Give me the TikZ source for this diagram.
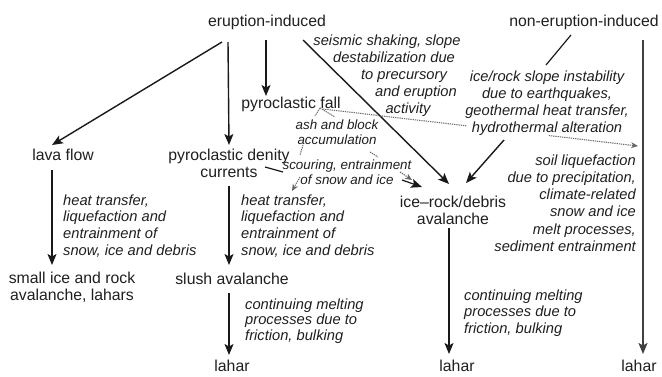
\documentclass[tikz,border=0pt]{standalone}
\usepackage{fontspec}
\setmainfont{Liberation Sans}
\usetikzlibrary{arrows.meta,calc}
\begin{document}
\begin{tikzpicture}[x=1pt,y=-1pt,
  lbl/.style={inner sep=0pt, text=black!88, font=\fontsize{15.8}{17.2}\selectfont, align=center},
  itl/.style={inner sep=0pt, text=black!88, font=\fontsize{14.7}{16.8}\selectfont\itshape},
  itls/.style={inner sep=0pt, text=black!88, font=\fontsize{13.4}{15}\selectfont\itshape, align=center},
  arr/.style={line width=1.4pt, draw=black!90, -{Stealth[length=11pt,width=9pt,inset=2.5pt]}},
  plainln/.style={line width=1.2pt, draw=black!90},
  dotl/.style={line width=1pt, draw=black!60, dash pattern=on 1.3pt off 0.9pt},
  dotarr/.style={dotl, -{Stealth[length=7pt,width=6pt]}},
]
\useasboundingbox (0,0) rectangle (662,376);

% nodes
\node[lbl] (erup) at (267,22) {eruption-induced};
\node[lbl] (nonerup) at (584,22) {non-eruption-induced};
\node[lbl] (pfall) at (291,104) {pyroclastic fall};
\node[lbl] (lava) at (63,155) {lava flow};
\node[lbl] (pdc) at (229,163) {pyroclastic denity\\currents};
\node[itls] (ash) at (337,132) {ash and block\\accumulation};
\node[itls] (scour) at (347,172) {scouring, entrainment\\of snow and ice};
\node[itl, align=center, font=\fontsize{14.7}{17}\selectfont\itshape] (seis) at (387,76)
  {seismic shaking, slope\\\hspace*{14pt}destabilization due\\\hspace*{34pt}to precursory\\\hspace*{58pt}and eruption\\\hspace*{42pt}activity};
\node[itl, align=center] (slope) at (547,103)
  {ice/rock slope instability\\due to earthquakes,\\geothermal heat transfer,\\hydrothermal alteration};
\node[lbl] (iceav) at (453,210) {ice--rock/debris\\avalanche};
\node[itl, align=right, anchor=east, font=\fontsize{14.7}{17.2}\selectfont\itshape] (soil) at (636,203)
  {soil liquefaction\\due to precipitation,\\climate-related\\snow and ice\\melt processes,\\sediment entrainment};
\node[lbl] (small) at (72,287) {small ice and rock\\avalanche, lahars};
\node[itl, align=left, anchor=west] (ht1) at (63,226) {heat transfer,\\liquefaction and\\entrainment of\\snow, ice and debris};
\node[itl, align=left, anchor=west] (ht2) at (241,226) {heat transfer,\\liquefaction and\\entrainment of\\snow, ice and debris};
\node[lbl] (slush) at (232,279) {slush avalanche};
\node[itl, align=left, anchor=west, font=\fontsize{14.7}{15.8}\selectfont\itshape] (cont1) at (245,321) {continuing melting\\processes due to\\friction, bulking};
\node[itl, align=left, anchor=west, font=\fontsize{14.7}{16.5}\selectfont\itshape] (cont2) at (464,313) {continuing melting\\processes due to\\friction, bulking};
\node[lbl] (lahar1) at (232,366) {lahar};
\node[lbl] (lahar2) at (457,366) {lahar};
\node[lbl] (lahar3) at (639,366) {lahar};

% solid connectors
\draw[arr] ([xshift=-45pt,yshift=-20pt]erup.center) -- ([xshift=-11pt,yshift=10pt]lava.center);
\draw[arr] ([xshift=-39pt,yshift=-20pt]erup.center) -- ([xshift=0pt,yshift=18pt]pdc.center);
\draw[arr] ([xshift=-1pt,yshift=-18pt]erup.center) -- ([xshift=-25pt,yshift=8pt]pfall.center);
\draw[arr] ([xshift=36pt,yshift=-18pt]erup.center) -- ([xshift=-4pt,yshift=26pt]iceav.center);
\draw[plainln] ([xshift=-13pt,yshift=-13pt]nonerup.center) -- ([xshift=-1pt,yshift=38pt]slope.center);
\draw[arr] ([xshift=-43pt,yshift=-37pt]slope.center) -- ([xshift=13pt,yshift=27pt]iceav.center);
\draw[arr, draw=black!75, line width=1.7pt] ([xshift=59pt,yshift=-18pt]nonerup.center) -- ([xshift=4pt,yshift=12pt]lahar3.center);
\draw[arr] ([xshift=-11pt,yshift=-15pt]lava.center) -- ([xshift=-20pt,yshift=22pt]small.center);
\draw[arr] ([xshift=0pt,yshift=-23pt]pdc.center) -- ([xshift=-3pt,yshift=14pt]slush.center);
\draw[arr] ([xshift=-3pt,yshift=-14pt]slush.center) -- ([xshift=-3pt,yshift=11pt]lahar1.center);
\draw[arr, line width=1.2pt] ([xshift=-4pt,yshift=-18pt]iceav.center) -- ([xshift=-8pt,yshift=12pt]lahar2.center);
\draw[arr, line width=1.2pt] ([xshift=36pt,yshift=-4pt]pdc.center) -- ([xshift=54pt,yshift=-9pt]pdc.center)
  ([xshift=55pt,yshift=-8pt]scour.center) -- ([xshift=-31pt,yshift=23pt]iceav.center);

% dotted connectors
\coordinate (fa) at ([xshift=32pt,yshift=-5pt]pfall.center);
\coordinate (fb) at ([xshift=2pt,yshift=57pt]soil.east);
\draw[dotarr] (fa) -- ($(fa)!0.457!(fb)$) ($(fa)!0.717!(fb)$) -- (fb);
\draw[dotl] ([xshift=29pt,yshift=-4pt]pfall.center) -- ([xshift=-22pt,yshift=16pt]ash.center);
\draw[dotl] ([xshift=29pt,yshift=-4pt]pfall.center) -- ([xshift=-2pt,yshift=15pt]ash.center);
\draw[dotarr] ([xshift=-34pt,yshift=-13pt]ash.center) -- ([xshift=-37pt,yshift=-23pt]ash.center)
  ([xshift=-47pt,yshift=-5pt]scour.center) -- ([xshift=51pt,yshift=35pt]ht2.west);
\draw[dotarr] ([xshift=33pt,yshift=-20pt]ash.center) -- ([xshift=41pt,yshift=-25pt]ash.center)
  ([xshift=53pt,yshift=0pt]scour.center) -- ([xshift=-41pt,yshift=30pt]iceav.center);
\end{tikzpicture}
\end{document}
